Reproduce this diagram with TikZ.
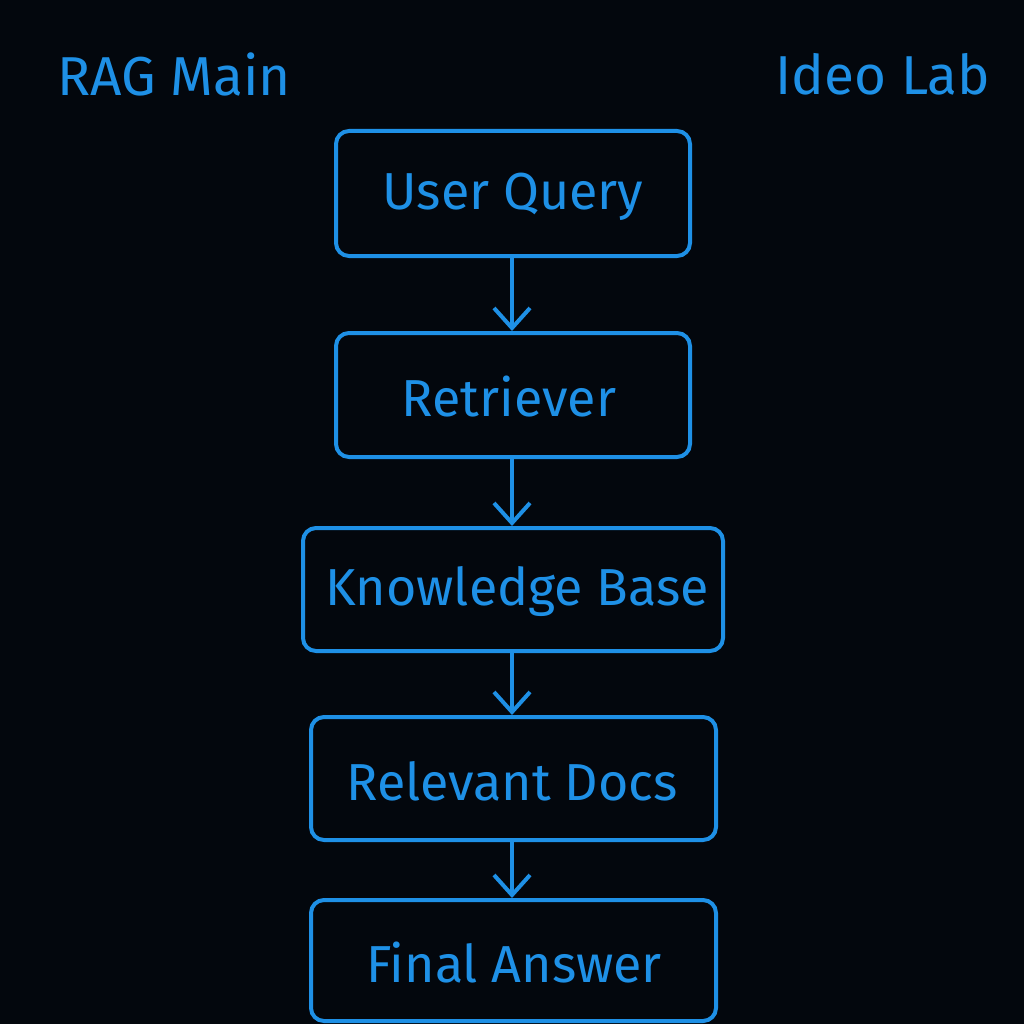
\documentclass[tikz,border=0pt]{standalone}
\usepackage{fontspec}
\setmainfont{Fira Sans}
\usetikzlibrary{arrows.meta}
\definecolor{bg}{HTML}{03070D}
\definecolor{bl}{HTML}{1E90E6}
\begin{document}
\begin{tikzpicture}[x=0.1mm,y=-0.1mm,
  box/.style={draw=bl,line width=0.4mm,rounded corners=1.3mm,text=bl,font=\fontsize{14.8}{18}\selectfont},
  arr/.style={draw=bl,line width=0.4mm,-{Straight Barb[length=2mm,width=3.6mm,line width=0.4mm]}},
  ttl/.style={text=bl,font=\fontsize{15.6}{19}\selectfont}]
\fill[bg] (0,0) rectangle (1024,1024);
\useasboundingbox (0,0) rectangle (1024,1024);
\node[ttl] (t1) at (174,74) {RAG Main};
\node[ttl] (t2) at (883,74) {Ideo Lab};
\draw[box] (336,131) rectangle (690,256); \node[box,draw=none] (a) at (513,197) {User Query};
\draw[box] (336,333) rectangle (690,457); \node[box,draw=none] (b) at (509,397) {Retriever};
\draw[box] (303,528) rectangle (723,651); \node[box,draw=none] (c) at (517,592) {Knowledge Base};
\draw[box] (311,717) rectangle (716,840); \node[box,draw=none] (d) at (512,781) {Relevant Docs};
\draw[box] (311,900) rectangle (716,1021); \node[box,draw=none] (e) at (514,963) {Final Answer};
\coordinate (a1) at (512,256); \coordinate (a2) at (512,331);
\coordinate (b1) at (512,457); \coordinate (b2) at (512,526);
\coordinate (c1) at (512,651); \coordinate (c2) at (512,715);
\coordinate (d1) at (512,840); \coordinate (d2) at (512,898);
\draw[arr] (a1) -- (a2);
\draw[arr] (b1) -- (b2);
\draw[arr] (c1) -- (c2);
\draw[arr] (d1) -- (d2);
\end{tikzpicture}
\end{document}
